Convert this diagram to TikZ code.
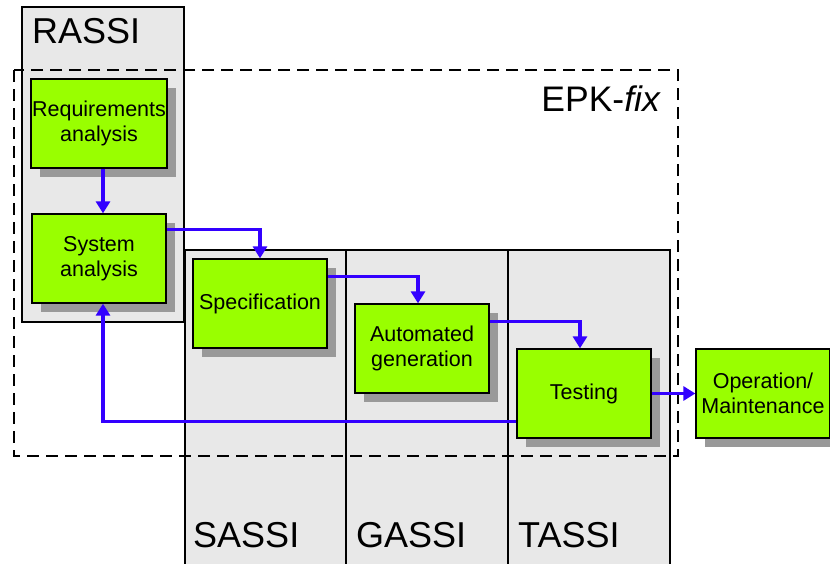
\documentclass[tikz,border=0pt]{standalone}
\usepackage{fontspec}
\setmainfont{Liberation Sans}
\usetikzlibrary{arrows.meta,shadows}
\definecolor{panelgray}{HTML}{E8E8E8}
\definecolor{stepgreen}{HTML}{99FF00}
\definecolor{shadowgray}{HTML}{999999}
\definecolor{flowblue}{HTML}{3300FF}
\begin{document}
\begin{tikzpicture}[x=1pt, y=-1pt,
        stepbox/.style={draw, line width=1.3pt, fill=stepgreen, minimum width=134pt, minimum height=89pt,
            inner sep=1pt, align=center, font=\fontsize{21.5}{25.5}\selectfont,
            drop shadow={shadow xshift=9pt, shadow yshift=-9pt, fill=shadowgray, opacity=1}},
        panel/.style={draw, line width=1.7pt, fill=panelgray},
        phase/.style={anchor=base west, inner sep=0pt, font=\fontsize{36}{36}\selectfont},
        flow/.style={draw=flowblue, line width=3.4pt, -{Triangle[length=12pt, width=14pt]}}]
        \useasboundingbox (0,0) rectangle (830,563);
        % tool panels
        \draw[panel] (22,7) rectangle (184,322);
        \draw[panel] (185,250) rectangle (346,575);
        \draw[panel] (346,250) rectangle (508,575);
        \draw[panel] (508,250) rectangle (670,575);
        \node[phase] (rassi) at (32,43) {RASSI};
        \node[phase] (sassi) at (193,547) {SASSI};
        \node[phase] (gassi) at (356,547) {GASSI};
        \node[phase] (tassi) at (518,547) {TASSI};
        % EPK-fix frame
        \draw[line width=1.4pt, dash pattern=on 12pt off 7pt] (14,70) rectangle (678,456);
        \node[phase, anchor=base east, font=\fontsize{35.5}{36}\selectfont] (epk) at (661,111) {EPK-\textit{fix}};
        % process steps
        \node[stepbox] (req) at (99,123.5) {Requirements\\analysis};
        \node[stepbox] (sys) at (99,258.5) {System\\analysis};
        \node[stepbox] (spec) at (260,303.5) {Specification};
        \node[stepbox] (auto) at (422,348.5) {Automated\\generation};
        \node[stepbox] (test) at (584,393.5) {Testing};
        \node[stepbox] (oper) at (763,393.5) {Operation/\\Maintenance};
        % forward flow
        \draw[flow] ([xshift=4pt]req.south) -- ([xshift=4pt]sys.north);
        \draw[flow] ([yshift=-16pt]sys.north east) -| (spec.north);
        \draw[flow] ([yshift=-18pt]spec.north east) -| ([xshift=-4pt]auto.north);
        \draw[flow] ([yshift=-18pt]auto.north east) -| ([xshift=-4pt]test.north);
        \draw[flow] (test.east) -- (oper.west);
        % feedback from testing
        \draw[flow] ([yshift=17pt]test.south west) -| ([xshift=4pt]sys.south);
    \end{tikzpicture}
\end{document}
